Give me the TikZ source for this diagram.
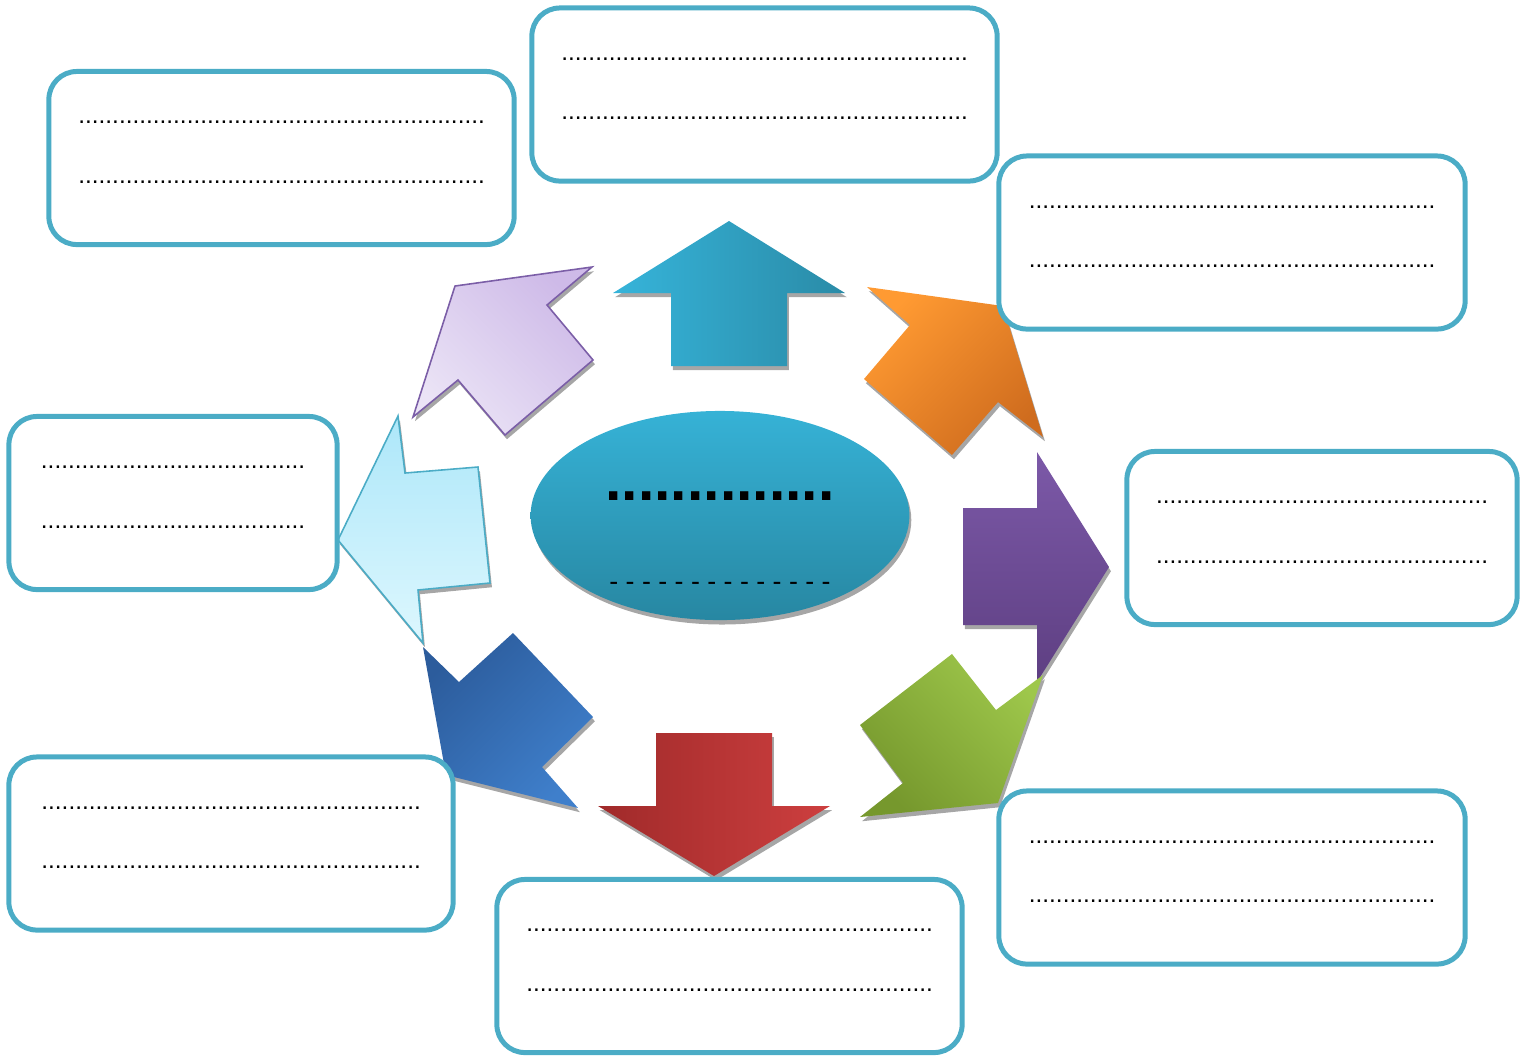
\documentclass[tikz,border=0pt]{standalone}
\usepackage{fontspec}
\setmainfont{Liberation Sans}
\usetikzlibrary{shapes.geometric,shadows}
\definecolor{boxline}{HTML}{4BACC6}
\definecolor{shadowgray}{HTML}{A6A6A6}
\definecolor{cyanL}{HTML}{36B4DA}
\definecolor{cyanR}{HTML}{2A8BA7}
\definecolor{redL}{HTML}{A02A2A}
\definecolor{redR}{HTML}{CD3F3F}
\definecolor{purT}{HTML}{7C59A8}
\definecolor{purB}{HTML}{5E3F82}
\definecolor{orgL}{HTML}{FF9A32}
\definecolor{orgD}{HTML}{CF6C1E}
\definecolor{grnL}{HTML}{9EC74B}
\definecolor{grnD}{HTML}{76982D}
\definecolor{bluD}{HTML}{2C5C9C}
\definecolor{bluL}{HTML}{3F7FCB}
\definecolor{lavD}{HTML}{CEBAE8}
\definecolor{lavL}{HTML}{EBE4F6}
\definecolor{lavline}{HTML}{7B5EA7}
\definecolor{ltbT}{HTML}{ADE7F9}
\definecolor{ltbB}{HTML}{DDF7FE}
\definecolor{ellT}{HTML}{36B2D6}
\definecolor{ellB}{HTML}{2787A2}
\newcommand\txtbox[5]{%
  \node[infobox, minimum width=#4cm] (#1) at (#2,#3) {};
  \node[dotline] (#1a) at (#2,{#3-34.5}) {#5};
  \node[dotline] (#1b) at (#2,{#3+25}) {#5};
}
\begin{document}
\begin{tikzpicture}[x=0.01cm,y=-0.01cm,
  infobox/.style={draw=boxline, line width=1.42pt, rounded corners=0.28cm,
    fill=white, minimum height=1.73cm, inner sep=0pt},
  dotline/.style={font=\fontsize{6.93}{8}\selectfont, inner sep=0pt, anchor=base},
  shad/.style={drop shadow={shadow xshift=0.55pt, shadow yshift=-1.2pt,
    fill=shadowgray, opacity=1}},
]
\useasboundingbox (0,0) rectangle (1520,1056);

% upper-left lavender arrow
\shade[shad, draw=lavline, line width=0.45pt, top color=lavD, bottom color=lavL, shading angle=-45]
  (455,286) -- (592,267) -- (547,305) -- (593,360) -- (505,435) -- (458,380) -- (413,417) -- cycle;
% upper-right orange arrow
\shade[shad, top color=orgL, bottom color=orgD, shading angle=45]
  (867,287) -- (1003,306) -- (1043,437) -- (998,402) -- (952,455) -- (864,379) -- (910,325) -- cycle;
% top cyan arrow
\shade[shad, left color=cyanL, right color=cyanR]
  (729,221) -- (845,293) -- (787,293) -- (787,366) -- (671,366) -- (671,293) -- (613,293) -- cycle;
% right purple arrow
\shade[shad, top color=purT, bottom color=purB]
  (963,508) -- (1037,508) -- (1037,452) -- (1109,567) -- (1037,682) -- (1037,625) -- (963,625) -- cycle;
% lower-right green arrow
\shade[shad, top color=grnL, bottom color=grnD, shading angle=-45]
  (952,654) -- (996,710) -- (1043,675) -- (998,803) -- (860,817) -- (903,783) -- (860,725) -- cycle;
% bottom red arrow
\shade[shad, left color=redL, right color=redR]
  (656,733) -- (772,733) -- (772,806) -- (830,806) -- (714,876) -- (598,806) -- (656,806) -- cycle;
% lower-left blue arrow
\shade[shad, top color=bluD, bottom color=bluL, shading angle=45]
  (423,647) -- (459,682) -- (513,633) -- (593,717) -- (542,767) -- (578,808) -- (446,775) -- cycle;
% left light-blue arrow
\shade[shad, draw=boxline, line width=0.45pt, top color=ltbT, bottom color=ltbB]
  (338,540) -- (398,416) -- (405,473) -- (478,467) -- (490,583) -- (418,590) -- (423,643) -- cycle;

% central ellipse
\fill[shadowgray] (722,520) ellipse [x radius=189.3, y radius=104.5];
\node[ellipse, top color=ellT, bottom color=ellB, minimum width=3.786cm,
  minimum height=2.09cm, inner sep=0pt] (hub) at (720,515.5) {};
\node[font=\bfseries\fontsize{16.75}{18}\selectfont, anchor=base, inner sep=0pt]
  (hubtitle) at (720,500) {..............};
\node[font=\fontsize{7.6}{8}\selectfont, anchor=base, inner sep=0pt]
  (hubsub) at (720,590) {- - - - - - - - - - - - - -};

% text boxes
\txtbox{b1}{281.5}{158}{4.65}{............................................................}
\txtbox{b2}{764.5}{94.5}{4.65}{............................................................}
\txtbox{b3}{1232}{242.5}{4.66}{............................................................}
\txtbox{b4}{1322}{538}{3.90}{.................................................}
\txtbox{b5}{1232}{877.5}{4.66}{............................................................}
\txtbox{b6}{729.5}{966}{4.65}{............................................................}
\txtbox{b7}{231}{843.5}{4.44}{........................................................}
\txtbox{b8}{173}{503}{3.28}{.......................................}
\end{tikzpicture}
\end{document}
